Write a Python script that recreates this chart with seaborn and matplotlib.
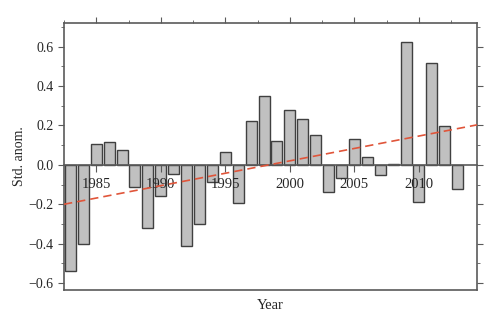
import numpy as np
import pandas as pd
import matplotlib
matplotlib.use("Agg")
import matplotlib.pyplot as plt
from matplotlib.ticker import MultipleLocator
import seaborn as sns

years = list(range(1983, 2014))
anom = [-0.54, -0.40, 0.105, 0.115, 0.074, -0.112, -0.318, -0.156, -0.047, -0.411,
        -0.30, -0.085, 0.065, -0.196, 0.223, 0.35, 0.12, 0.276, 0.232, 0.151,
        -0.139, -0.068, 0.13, 0.042, -0.052, 0.005, 0.626, -0.186, 0.516, 0.198,
        -0.125]
trend_years = [1982.5, 2014.5]
trend_values = [-0.20, 0.203]
tick_years = [1985, 1990, 1995, 2000, 2005, 2010]
x_label = "Year"
y_label = "Std. anom."

sns.set_style("ticks")
plt.rcParams['font.family'] = ['Liberation Serif', 'DejaVu Serif']
plt.rcParams['font.size'] = 10

df = pd.DataFrame({"year": years, "anom": anom})
trend = pd.DataFrame({"year": trend_years, "anom": trend_values})

fig = plt.figure(figsize=(5.0, 3.28), dpi=100)
ax = fig.add_axes([0.128, 0.116, 0.826, 0.815])

sns.barplot(data=df, x="year", y="anom", native_scale=True, width=0.85,
            color="#c0c0c0", saturation=1, edgecolor="#404040", linewidth=1.0,
            ax=ax, zorder=2)

xmin, xmax = trend_years
ymin, ymax = -0.635, 0.722
ax.set_xlim(xmin, xmax)
ax.set_ylim(ymin, ymax)

sns.lineplot(data=trend, x="year", y="anom", ax=ax, color="#e0553a", lw=1.2,
             dashes=False, zorder=10)
ax.lines[-1].set_linestyle((0, (5, 3)))

spine_col = "#5a5a5a"
for s in ax.spines.values():
    s.set_visible(True)
    s.set_color(spine_col)
    s.set_linewidth(1.2)

ax.yaxis.set_major_locator(MultipleLocator(0.2))
ax.yaxis.set_minor_locator(MultipleLocator(0.1))
ax.xaxis.set_major_locator(MultipleLocator(5))
ax.xaxis.set_minor_locator(MultipleLocator(2.5))
ax.tick_params(axis="y", which="both", left=True, right=True, labelright=False,
               direction="out", color=spine_col, labelsize=10)
ax.tick_params(axis="y", which="major", length=4)
ax.tick_params(axis="y", which="minor", length=2)
ax.tick_params(axis="x", which="both", bottom=False, labelbottom=False,
               top=True, labeltop=False, direction="out", color=spine_col)
ax.tick_params(axis="x", which="major", length=4)
ax.tick_params(axis="x", which="minor", length=2)
ax.set_yticks(np.arange(-0.6, 0.61, 0.2))
ax.set_yticklabels([f"{v:.1f}".replace("-", "\u2212") for v in np.arange(-0.6, 0.61, 0.2)])
ax.set_ylim(ymin, ymax)

# x axis at zero
loc = (0 - ymin) / (ymax - ymin)
sec = ax.secondary_xaxis(loc)
sec.set_zorder(5)
sec.spines["bottom"].set_color(spine_col)
sec.spines["bottom"].set_linewidth(1.2)
sec.tick_params(axis="x", which="major", length=5, color=spine_col, pad=4.5, labelsize=10.5)
sec.tick_params(axis="x", which="minor", length=0)
sec.set_xticks(tick_years)
sec.set_xticklabels([str(y) for y in tick_years])

ax.set_xlabel("")
ax.set_ylabel(y_label, fontsize=10, labelpad=2)
fig.text(0.541, 0.07, x_label, ha="center", va="center", fontsize=10.5)

fig.savefig("out.png", dpi=100)
